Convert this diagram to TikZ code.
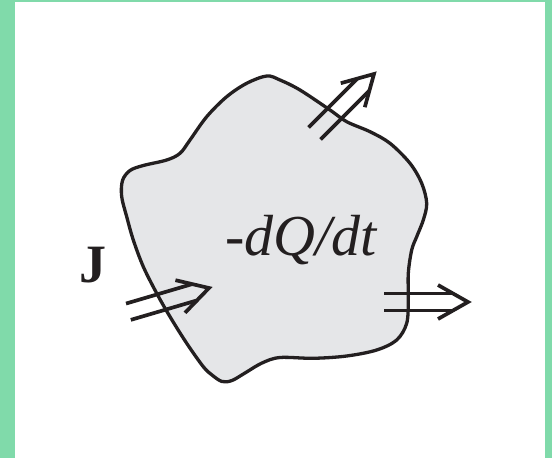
\documentclass[tikz,border=0pt]{standalone}
\usepackage{fontspec}
\setmainfont{Liberation Serif}
\definecolor{frame}{RGB}{128,218,170}
\definecolor{ink}{RGB}{35,31,32}
\definecolor{blobfill}{RGB}{229,230,232}
\begin{document}
\begin{tikzpicture}[x=1pt,y=-1pt,
  blobline/.style={draw=ink,line width=3.3pt,fill=blobfill},
  arrowline/.style={draw=ink,line width=3.7pt,line join=miter},
  dblarrow/.pic={
    \draw[arrowline] (-84,8.5) -- (-15,8.5);
    \draw[arrowline] (-84,-8.5) -- (-15,-8.5);
    \draw[arrowline] (-30,17) -- (0,0) -- (-30,-17);
  },
  labeltext/.style={text=ink,inner sep=0pt}]
\useasboundingbox (0,0) rectangle (552,458);
\fill[frame] (0,0) rectangle (552,458);
\fill[white] (15,2) rectangle (545,458);
% region
\path[blobline] plot[smooth cycle,tension=0.55] coordinates {
 (266.7,76) (280,80) (300,90) (330,110) (346.7,121.7) (370,131.7) (390,143.3)
 (410,163.3) (421.7,183.3) (426.7,203.3) (423.3,220) (416.7,236.7) (411.7,250)
 (408.3,273.3) (408.3,300) (406.7,323.3) (396.7,340) (376.7,350) (346.7,356)
 (313.3,358.3) (280,357.5) (262,363) (245,373) (232,380.5) (222,381.5) (212,375)
 (203.3,366.7) (186.7,343.3) (170,316.7) (156.7,293.3) (143.3,266.7) (133.3,240)
 (126.7,216.7) (121.7,196.7) (122.5,180.5) (130,170.5) (143.3,165.5) (166.7,160)
 (180,153.3) (190,140) (206.7,116.7) (226.7,96.7) (246.7,83.3)};
% labels
\node[labeltext,anchor=base,font=\fontsize{58}{60}\selectfont\itshape] (rate) at (301,255) {-dQ/dt};
\node[labeltext,anchor=base,font=\fontsize{54}{54}\selectfont\bfseries] (J) at (93,282) {J};
% arrow tips
\coordinate (tipin) at (209,288);
\coordinate (tipup) at (374,74);
\coordinate (tipright) at (468,302);
\pic[rotate=16.4] at (tipin) {dblarrow};
\pic[rotate=45] at (tipup) {dblarrow};
\pic at (tipright) {dblarrow};
\end{tikzpicture}
\end{document}
